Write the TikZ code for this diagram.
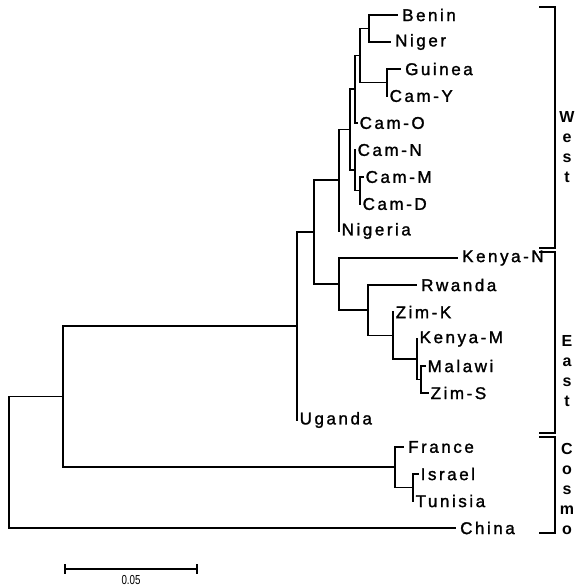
\documentclass[tikz,border=0pt]{standalone}
\usepackage{fontspec}
\usepackage{graphicx}
\setmainfont{Liberation Sans}
\newfontfamily\labfont[LetterSpace=15,FakeBold=1.5]{Liberation Sans}
\newfontfamily\grpfont{Liberation Sans}
\begin{document}
\begin{tikzpicture}[x=1pt,y=-1pt,
  br/.style={line width=1.2pt,line cap=rect},
  leaf/.style={anchor=west,inner xsep=5pt,inner ysep=0pt,font=\labfont\fontsize{17}{17}\selectfont},
  leafz/.style={leaf,inner xsep=2.5pt},
  grp/.style={align=center,inner sep=0pt,font=\grpfont\bfseries\fontsize{16}{20}\selectfont},
  scl/.style={inner sep=0pt,font=\fontsize{13}{13}\selectfont}]
\useasboundingbox (0,0) rectangle (580,587);
% internal nodes
\coordinate (nBN) at (369,28.5);
\coordinate (nGC) at (387,82.5);
\coordinate (nA) at (360,55.5);
\coordinate (nB) at (355,89);
\coordinate (nMD) at (360,190.5);
\coordinate (nC) at (355,170);
\coordinate (nD) at (350,129.5);
\coordinate (nW) at (339,180);
\coordinate (nMZ) at (421,379.5);
\coordinate (nKM) at (417,359);
\coordinate (nZK) at (393,335.5);
\coordinate (nR) at (368,310);
\coordinate (nE) at (339,284);
\coordinate (nWE) at (314,232);
\coordinate (nU) at (297,326);
\coordinate (nIT) at (413,487.5);
\coordinate (nCo) at (395,467);
\coordinate (nIN) at (63,396.5);
\coordinate (root) at (9,462);
% leaves
\node[leaf] (Benin) at (397,15) {Benin};
\node[leaf] (Niger) at (390,42) {Niger};
\node[leaf] (Guinea) at (400,69) {Guinea};
\node[leafz] (CamY) at (387,96) {Cam-Y};
\node[leafz] (CamO) at (357,123) {Cam-O};
\node[leafz] (CamN) at (355,150) {Cam-N};
\node[leafz] (CamM) at (363,177) {Cam-M};
\node[leafz] (CamD) at (360,204) {Cam-D};
\node[leafz] (Nigeria) at (339,231) {Nigeria};
\node[leaf] (KenyaN) at (457,258) {Kenya-N};
\node[leaf] (Rwanda) at (416,285) {Rwanda};
\node[leafz] (ZimK) at (393,312) {Zim-K};
\node[leafz] (KenyaM) at (417,339) {Kenya-M};
\node[leafz] (Malawi) at (425,366) {Malawi};
\node[leafz] (ZimS) at (428,393) {Zim-S};
\node[leafz] (Uganda) at (297,420) {Uganda};
\node[leaf] (France) at (403,447) {France};
\node[leafz] (Israel) at (418,474) {Israel};
\node[leafz] (Tunisia) at (413,501) {Tunisia};
\node[leaf] (China) at (455,528) {China};
% branches
\draw[br] (nBN) |- (Benin.west); \draw[br] (nBN) |- (Niger.west);
\draw[br] (nGC) |- (Guinea.west); \draw[br] (nGC) |- (CamY.west);
\draw[br] (nA) |- (nBN); \draw[br] (nA) |- (nGC);
\draw[br] (nB) |- (nA); \draw[br] (nB) |- (CamO.west);
\draw[br] (nMD) |- (CamM.west); \draw[br] (nMD) |- (CamD.west);
\draw[br] (nC) |- (CamN.west); \draw[br] (nC) |- (nMD);
\draw[br] (nD) |- (nB); \draw[br] (nD) |- (nC);
\draw[br] (nW) |- (nD); \draw[br] (nW) |- (Nigeria.west);
\draw[br] (nMZ) |- (Malawi.west); \draw[br] (nMZ) |- (ZimS.west);
\draw[br] (nKM) |- (KenyaM.west); \draw[br] (nKM) |- (nMZ);
\draw[br] (nZK) |- (ZimK.west); \draw[br] (nZK) |- (nKM);
\draw[br] (nR) |- (Rwanda.west); \draw[br] (nR) |- (nZK);
\draw[br] (nE) |- (KenyaN.west); \draw[br] (nE) |- (nR);
\draw[br] (nWE) |- (nW); \draw[br] (nWE) |- (nE);
\draw[br] (nU) |- (nWE); \draw[br] (nU) |- (Uganda.west);
\draw[br] (nIT) |- (Israel.west); \draw[br] (nIT) |- (Tunisia.west);
\draw[br] (nCo) |- (France.west); \draw[br] (nCo) |- (nIT);
\draw[br] (nIN) |- (nU); \draw[br] (nIN) |- (nCo);
\draw[br] (root) |- (nIN); \draw[br] (root) |- (China.west);
% group brackets
\draw[br] (540,7) -- (555,7) -- (555,248) -- (540,248);
\draw[br] (540,252) -- (555,252) -- (555,433) -- (540,433);
\draw[br] (540,437) -- (555,437) -- (555,533) -- (540,533);
\node[grp] (West) at (567,147) {W\\e\\s\\t};
\node[grp] (East) at (567,371) {E\\a\\s\\t};
\node[grp] (Cosmo) at (567,489) {C\\o\\s\\m\\o};
% scale bar
\coordinate (sbL) at (65,569);
\coordinate (sbR) at (197,569);
\draw[br] (sbL) -- (sbR);
\draw[br] ([yshift=-4pt]sbL) -- ([yshift=4pt]sbL);
\draw[br] ([yshift=-4pt]sbR) -- ([yshift=4pt]sbR);
\node[scl] (sblab) at (131,580) {\scalebox{0.75}[1]{0.05}};
\end{tikzpicture}
\end{document}
